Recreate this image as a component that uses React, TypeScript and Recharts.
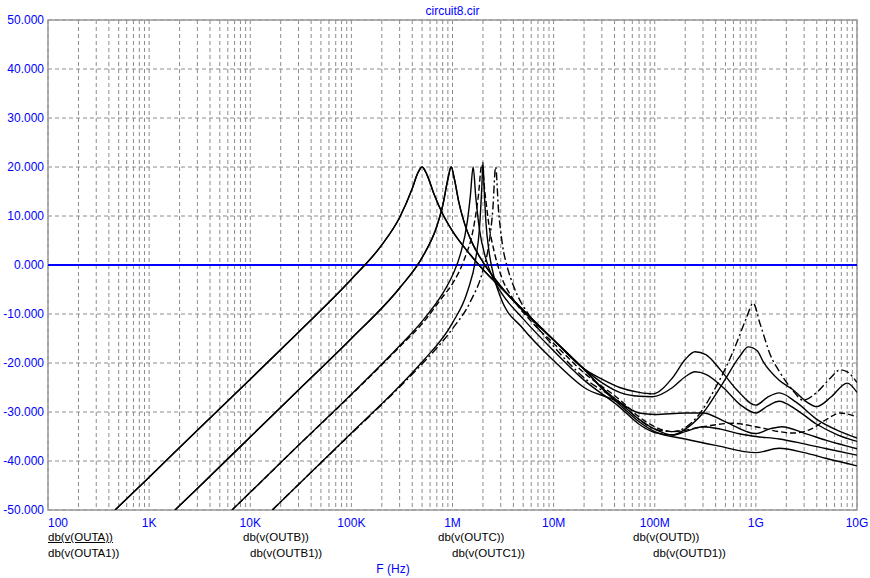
import {
  CartesianGrid,
  Line,
  LineChart,
  ReferenceArea,
  ReferenceLine,
  XAxis,
  YAxis,
} from "recharts"

const BLUE = "#0000ff"
const FONT = "'Liberation Sans', Arial, sans-serif"

// decade ticks of the frequency axis and their labels
const decadeTicks = [1e2, 1e3, 1e4, 1e5, 1e6, 1e7, 1e8, 1e9, 1e10]
const decadeLabels = ["100", "1K", "10K", "100K", "1M", "10M", "100M", "1G", "10G"]
const mantissas = [1, 2, 3, 4, 5, 6, 7, 8, 9]
const dbTicks = [-50, -40, -30, -20, -10, 0, 10, 20, 30, 40, 50]

// [frequency Hz, dB]
const outALow = [
  [460, -50], [1e3, -43.3], [3e3, -33.7], [1e4, -23.3], [3e4, -13.7],
  [1e5, -2.9], [2e5, 4.1], [3e5, 9.7], [4e5, 15.6], [4.5e5, 18.6],
  [5e5, 20], [5.6e5, 18.4], [6.5e5, 14.7], [8e5, 10.4], [1e6, 6.9],
  [1.5e6, 2.1], [2e6, -0.9], [3e6, -4.6], [5e6, -9.2], [1e7, -15.3], [2e7, -21.2],
]
const outATail = [
  [3e7, -23.3], [4.5e7, -25], [7e7, -26], [9.5e7, -26.3], [1.5e8, -23],
  [2e8, -19.3], [2.5e8, -17.7], [3.2e8, -18.3], [4.5e8, -21.5], [6.5e8, -25.5],
  [1e9, -28.6], [1.3e9, -27], [1.7e9, -26.1], [2.5e9, -28], [4e9, -31.5],
  [6.5e9, -33.8], [1e10, -35.3],
]
const outA1Tail = [
  [3e7, -24], [4.5e7, -26], [7e7, -26.8], [9.5e7, -26.9], [1.5e8, -25],
  [2e8, -22.8], [2.5e8, -21.8], [3.2e8, -22.3], [4.75e8, -25], [7e8, -28.5],
  [1e9, -30.2], [1.3e9, -28.8], [1.7e9, -27.8], [2.5e9, -29.5], [4e9, -32.5],
  [6.5e9, -34.7], [1e10, -36],
]
const outBLow = [
  [1800, -50], [3e3, -45.6], [1e4, -35.1], [3e4, -25.5], [1e5, -15],
  [3e5, -4.7], [5e5, 1.5], [7e5, 7.9], [8e5, 12.1], [9e5, 17.5],
  [9.7e5, 20], [1.05e6, 17.3], [1.15e6, 13], [1.3e6, 8.8], [1.6e6, 4.1],
  [2e6, 0.6], [3e6, -4.3], [5e6, -9.4], [1e7, -15.3], [2e7, -21.3],
]
const outBTail = [
  [3e7, -25], [4.5e7, -28], [7e7, -30.2], [1e8, -30.5], [2e8, -30.2],
  [3e8, -30.2], [5e8, -32], [1e9, -34.4], [1.4e9, -33.4], [1.8e9, -33],
  [3e9, -34.3], [5e9, -35.8], [1e10, -37.5],
]
const outB1Tail = [
  [3e7, -25.2], [4.5e7, -28.5], [7e7, -32], [1e8, -34], [2e8, -35.5],
  [4e8, -36.8], [1e9, -38.3], [1.7e9, -37.4], [3e9, -38.3], [5e9, -39.5], [1e10, -41],
]
const outC = [
  [6600, -50], [1e4, -46.4], [3e4, -36.8], [1e5, -26.4], [3e5, -16.5],
  [5e5, -11.5], [8e5, -5.8], [1e6, -2.1], [1.2e6, 2.3], [1.4e6, 8.8],
  [1.5e6, 14], [1.6e6, 20], [1.7e6, 13.8], [1.85e6, 7.2], [2.1e6, 1.8],
  [2.5e6, -2.6], [3e6, -5.5], [5e6, -11], [1e7, -17.5], [2e7, -23.5],
  [4.5e7, -29], [7e7, -32.5], [1e8, -34.2], [1.5e8, -34.7], [2e8, -34],
  [3e8, -33], [4.5e8, -33.5], [7e8, -34.5], [1e9, -35], [1.7e9, -35.5],
  [3e9, -36.5], [5e9, -37.5], [1e10, -38.8],
]
const outC1 = [
  [6600, -50], [1e4, -46.4], [3e4, -36.8], [1e5, -26.5], [3e5, -16.7],
  [5e5, -12], [8e5, -6.5], [1e6, -3.8], [1.3e6, 1], [1.6e6, 7.2],
  [1.8e6, 14], [1.95e6, 20.5], [2.1e6, 14.5], [2.3e6, 8], [2.6e6, 2.5],
  [3e6, -2], [4e6, -7], [6e6, -11.5], [1e7, -16], [2e7, -22],
  [4.5e7, -27.5], [7e7, -31], [1e8, -33], [1.5e8, -34], [3e8, -33],
  [5.8e8, -32.3], [1e9, -33], [1.7e9, -34], [2.34e9, -34.3], [3.5e9, -33.5],
  [5e9, -31.5], [6.8e9, -30.2], [1e10, -31],
]
const outD = [
  [16500, -50], [3e4, -44.8], [1e5, -34.3], [3e5, -24.7], [5e5, -19.8],
  [1e6, -11.8], [1.4e6, -5.5], [1.7e6, 1.4], [1.85e6, 7.6], [1.95e6, 16],
  [2e6, 21], [2.05e6, 16.1], [2.15e6, 8.2], [2.3e6, 2.7], [2.6e6, -2.8],
  [3e6, -6.7], [5e6, -13], [1e7, -19.5], [2e7, -25],
  [4.5e7, -28.2], [7e7, -31.5], [1e8, -33.5], [1.5e8, -34.7], [2e8, -33.5],
  [3e8, -30.2], [4.75e8, -24], [7e8, -18.5], [8.4e8, -16.7], [1.03e9, -17.5],
  [1.18e9, -19.7], [1.7e9, -23.5], [2.34e9, -25.5], [3.2e9, -28], [4e9, -28.9],
  [5.5e9, -27], [8e9, -24.1], [1e10, -26],
]
const outD1 = [
  [16500, -50], [3e4, -44.8], [1e5, -34.4], [3e5, -24.9], [5e5, -20.2],
  [1e6, -13], [1.5e6, -7.5], [2e6, -1.1], [2.3e6, 4.5], [2.5e6, 11.1],
  [2.67e6, 20], [2.85e6, 11.3], [3.1e6, 4.5], [3.5e6, -0.6], [4e6, -4.2],
  [6e6, -10.9], [1e7, -16.6], [2e7, -23],
  [4.5e7, -28], [7e7, -31.5], [1e8, -33.5], [1.5e8, -34], [2.5e8, -31.5],
  [4e8, -25], [6e8, -17.5], [8e8, -11], [9.4e8, -7.8], [1.1e9, -12],
  [1.4e9, -18.5], [1.74e9, -22], [2.3e9, -25.5], [2.94e9, -27.6], [4e9, -26],
  [5.5e9, -23], [6.8e9, -21.4], [8e9, -21.8], [1e10, -24],
]

const toRows = (pts: number[][]) => pts.map(([f, db]) => ({ f, db }))

const SERIES = [
  { name: "db(v(OUTA))", data: toRows([...outALow, ...outATail]), dash: undefined },
  { name: "db(v(OUTA1))", data: toRows([...outALow, ...outA1Tail]), dash: undefined },
  { name: "db(v(OUTB))", data: toRows([...outBLow, ...outBTail]), dash: undefined },
  { name: "db(v(OUTB1))", data: toRows([...outBLow, ...outB1Tail]), dash: undefined },
  { name: "db(v(OUTC))", data: toRows(outC), dash: undefined },
  { name: "db(v(OUTC1))", data: toRows(outC1), dash: "6 3" },
  { name: "db(v(OUTD))", data: toRows(outD), dash: undefined },
  { name: "db(v(OUTD1))", data: toRows(outD1), dash: "8 3 2 3" },
]

const gridTicks = decadeTicks.slice(0, -1).flatMap((d) => mantissas.map((m) => d * m)).concat([1e10])

// legend label spots under the axis, as in the probe window
const LEGEND_POS = [
  [48, 530], [48, 546], [243, 530], [250, 546],
  [438, 530], [452, 546], [633, 530], [653, 546],
]

function FreqTick(props: any) {
  const { x, y, payload } = props
  const i = decadeTicks.indexOf(payload.value)
  if (i < 0) return <g />
  return (
    <text
      x={x}
      y={y + 15}
      textAnchor={i === 0 ? "start" : "middle"}
      fill={BLUE}
      fontSize={12}
      fontFamily={FONT}
    >
      {decadeLabels[i]}
    </text>
  )
}

export default function App() {
  return (
    <div
      style={{
        position: "absolute",
        left: 0,
        top: 0,
        width: 870,
        height: 578,
        background: "#fff",
        fontFamily: FONT,
      }}
    >
      <LineChart width={870} height={578} margin={{ top: 20, right: 13, bottom: 0, left: 0 }}>
        <CartesianGrid stroke="#8c8c8c" strokeDasharray="4 3" />
        <XAxis
          dataKey="f"
          type="number"
          scale="log"
          domain={[1e2, 1e10]}
          ticks={gridTicks}
          interval={0}
          allowDataOverflow
          height={68}
          tickLine={false}
          axisLine={false}
          tickSize={0}
          tick={<FreqTick />}
        />
        <YAxis
          type="number"
          domain={[-50, 50]}
          ticks={dbTicks}
          allowDataOverflow
          width={48}
          tickLine={false}
          axisLine={false}
          tickSize={0}
          tickMargin={4}
          tickFormatter={(v) => Number(v).toFixed(3)}
          tick={{ fill: BLUE, fontSize: 12, fontFamily: FONT }}
        />
        <ReferenceArea x1={1e2} x2={1e10} y1={-50} y2={50} fill="none" stroke="#999" strokeWidth={1.5} />
        <ReferenceLine y={0} stroke={BLUE} strokeWidth={2} />
        {SERIES.map((s) => (
          <Line
            key={s.name}
            data={s.data}
            dataKey="db"
            name={s.name}
            type="monotone"
            stroke="#000"
            strokeWidth={1.4}
            strokeDasharray={s.dash}
            dot={false}
            isAnimationActive={false}
          />
        ))}
      </LineChart>

      <div style={{ position: "absolute", left: 0, width: 905, top: 4, textAlign: "center", color: BLUE, fontSize: 12, lineHeight: "14px" }}>
        circuit8.cir
      </div>
      {SERIES.map((s, i) => (
        <div
          key={s.name}
          style={{
            position: "absolute",
            left: LEGEND_POS[i][0],
            top: LEGEND_POS[i][1],
            fontSize: 11.5,
            lineHeight: "14px",
            color: "#000",
            textDecoration: i === 0 ? "underline" : "none",
            whiteSpace: "nowrap",
          }}
        >
          {s.name}
        </div>
      ))}
      <div style={{ position: "absolute", left: 0, width: 786, top: 562, textAlign: "center", color: BLUE, fontSize: 12, lineHeight: "14px" }}>
        F (Hz)
      </div>
    </div>
  )
}
